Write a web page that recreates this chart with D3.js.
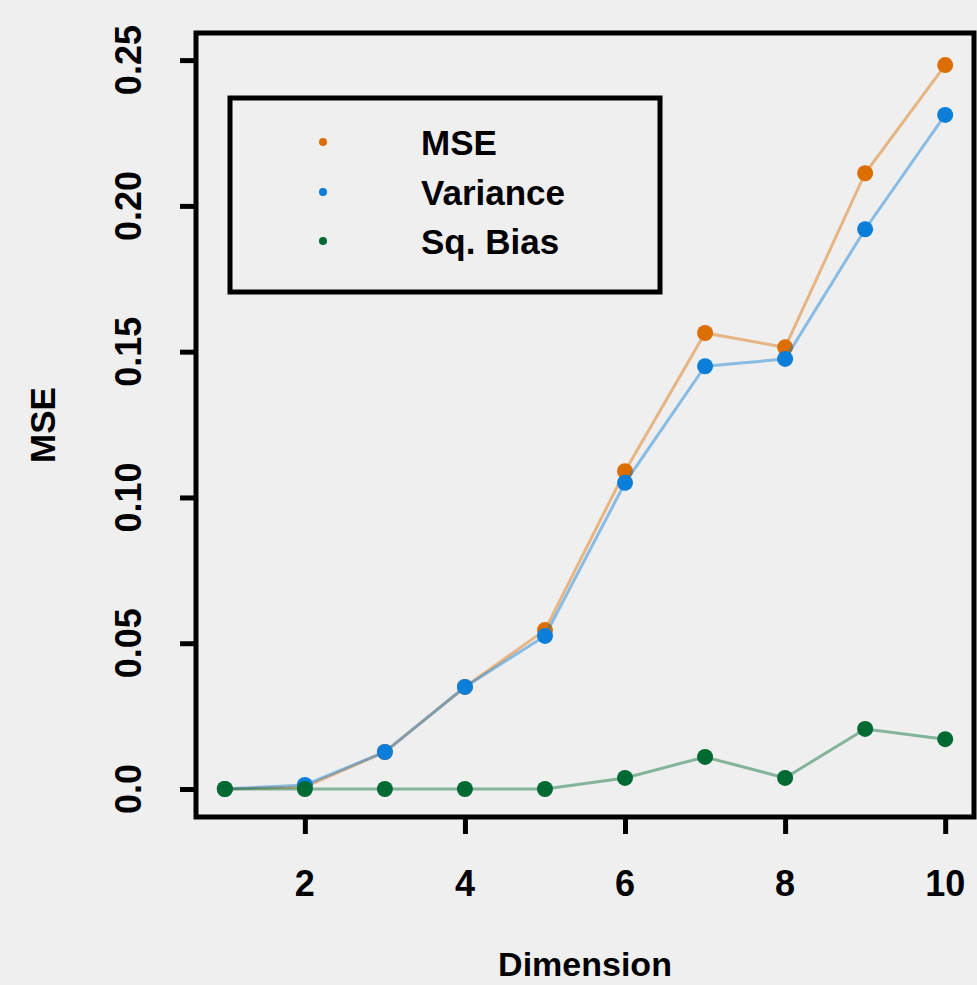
<!DOCTYPE html>
<html>
<head>
<meta charset="utf-8">
<script src="https://cdn.jsdelivr.net/npm/d3@7"></script>
<style>
  body { margin: 0; background: #efefef; }
  text { font-family: "Liberation Sans", Arial, sans-serif; font-weight: bold; fill: #000; }
</style>
</head>
<body>
<svg id="myGraph" width="977" height="985"></svg>
<script>
var dims = [1, 2, 3, 4, 5, 6, 7, 8, 9, 10];
var mseVals = [0, 0.0007, 0.0127, 0.0350, 0.0545, 0.1090, 0.1564, 0.1515, 0.2112, 0.2483];
var varVals = [0, 0.0014, 0.0127, 0.0350, 0.0525, 0.1050, 0.1450, 0.1475, 0.1920, 0.2312];
var biasVals = [0, 0, 0, 0, 0, 0.0038, 0.0110, 0.0038, 0.0206, 0.0171];
var xTicks = [2, 4, 6, 8, 10];
var yTicks = [0, 0.05, 0.10, 0.15, 0.20, 0.25];
var yTickLabels = ["0.0", "0.05", "0.10", "0.15", "0.20", "0.25"];
var seriesNames = ["MSE", "Variance", "Sq. Bias"];
var seriesColors = ["#dc6e00", "#0a7ed8", "#006a32"];

var svg = d3.select("#myGraph");

// plot area in pixels (R style box)
var pLeft = 196, pRight = 974, pTop = 33, pBottom = 817;

var x = d3.scaleLinear().domain([0.64, 10.36]).range([pLeft, pRight]);
var y = d3.scaleLinear().domain([-0.0096, 0.2593]).range([pBottom, pTop]);

// axes (ticks outside, no domain line)
var yAxis = svg.append("g")
    .attr("transform", "translate(" + pLeft + ",0)")
    .call(d3.axisLeft(y).tickValues(yTicks).tickSize(16).tickFormat(""));
yAxis.select(".domain").remove();
yAxis.selectAll("line").attr("stroke", "#000").attr("stroke-width", 5);

var xAxis = svg.append("g")
    .attr("transform", "translate(0," + pBottom + ")")
    .call(d3.axisBottom(x).tickValues(xTicks).tickSize(17).tickFormat(""));
xAxis.select(".domain").remove();
xAxis.selectAll("line").attr("stroke", "#000").attr("stroke-width", 5);

// tick labels
svg.selectAll(".ylab")
    .data(yTicks)
    .enter()
    .append("text")
    .attr("class", "ylab")
    .attr("transform", function(d) { return "translate(128," + y(d) + ") rotate(-90)"; })
    .attr("text-anchor", "middle")
    .attr("dominant-baseline", "central")
    .style("font-size", "36px")
    .text(function(d, i) { return yTickLabels[i]; });

svg.selectAll(".xlab")
    .data(xTicks)
    .enter()
    .append("text")
    .attr("class", "xlab")
    .attr("x", function(d) { return x(d); })
    .attr("y", 883)
    .attr("text-anchor", "middle")
    .attr("dominant-baseline", "central")
    .style("font-size", "36px")
    .text(function(d) { return d; });

// axis titles
svg.append("text")
    .attr("x", (pLeft + pRight) / 2)
    .attr("y", 964)
    .attr("text-anchor", "middle")
    .attr("dominant-baseline", "central")
    .style("font-size", "34px")
    .text("Dimension");

svg.append("text")
    .attr("transform", "translate(42," + ((pTop + pBottom) / 2) + ") rotate(-90)")
    .attr("text-anchor", "middle")
    .attr("dominant-baseline", "central")
    .style("font-size", "35px")
    .text("MSE");

// series: line then points, drawn MSE, Variance, Sq. Bias
var allSeries = [mseVals, varVals, biasVals];
var line = d3.line()
    .x(function(d, i) { return x(dims[i]); })
    .y(function(d) { return y(d); });

allSeries.forEach(function(vals, s) {
    svg.append("path")
        .datum(vals)
        .attr("d", line)
        .attr("fill", "none")
        .attr("stroke", seriesColors[s])
        .attr("stroke-opacity", 0.45)
        .attr("stroke-width", 3);

    svg.selectAll(".pt" + s)
        .data(vals)
        .enter()
        .append("circle")
        .attr("class", "pt" + s)
        .attr("cx", function(d, i) { return x(dims[i]); })
        .attr("cy", function(d) { return y(d); })
        .attr("r", 8)
        .attr("fill", seriesColors[s]);
});

// plot box
svg.append("rect")
    .attr("x", pLeft).attr("y", pTop)
    .attr("width", pRight - pLeft).attr("height", pBottom - pTop)
    .attr("fill", "none").attr("stroke", "#000").attr("stroke-width", 5);

// legend
var lg = svg.append("g");
lg.append("rect")
    .attr("x", 230).attr("y", 98)
    .attr("width", 430).attr("height", 194)
    .attr("fill", "none").attr("stroke", "#000").attr("stroke-width", 5);

var legendY = [142, 192, 241];
lg.selectAll("circle")
    .data(seriesNames)
    .enter()
    .append("circle")
    .attr("cx", 323)
    .attr("cy", function(d, i) { return legendY[i]; })
    .attr("r", 4)
    .attr("fill", function(d, i) { return seriesColors[i]; });

lg.selectAll("text")
    .data(seriesNames)
    .enter()
    .append("text")
    .attr("x", 421)
    .attr("y", function(d, i) { return legendY[i]; })
    .attr("dominant-baseline", "central")
    .style("font-size", "35px")
    .text(function(d) { return d; });
</script>
</body>
</html>
